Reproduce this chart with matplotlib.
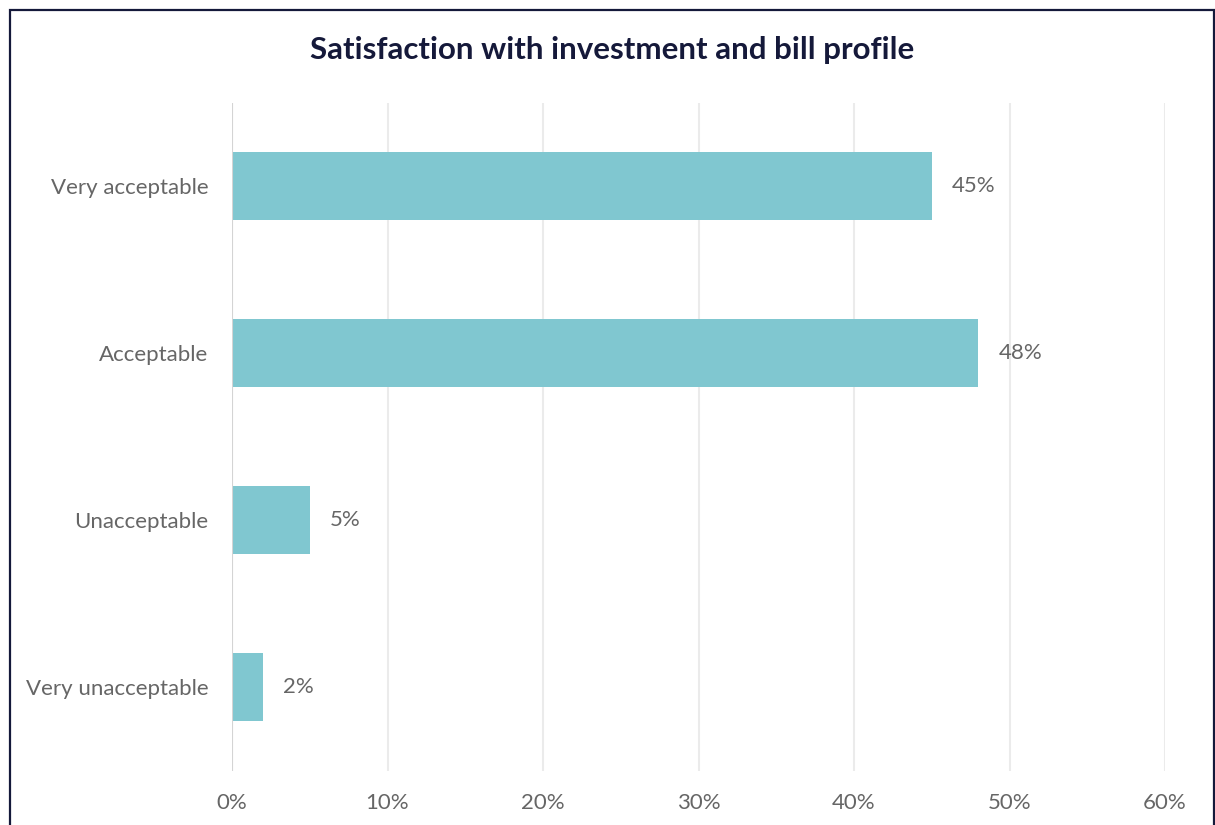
import matplotlib
matplotlib.use("Agg")
import matplotlib.pyplot as plt
from matplotlib.patches import Rectangle
from matplotlib.ticker import FuncFormatter

categories = ["Very acceptable", "Acceptable", "Unacceptable", "Very unacceptable"]
values = [45, 48, 5, 2]
x_ticks = [0, 10, 20, 30, 40, 50, 60]
title = "Satisfaction with investment and bill profile"

plt.rcParams["font.family"] = ["Lato", "DejaVu Sans"]

BAR = "#80C7D0"
TEXT = "#666666"
NAVY = "#15193a"

W, H = 1215, 825
fig = plt.figure(figsize=(W / 100, H / 100), dpi=100)
ax = fig.add_axes([232 / W, 54.5 / H, (1165 - 232) / W, (722.5 - 54.5) / H])

ypos = list(range(len(categories)))[::-1]
ax.barh(ypos, values, height=0.41, color=BAR, zorder=3)
for y, v in zip(ypos, values):
    ax.text(v + 1.3, y, f"{v}%", va="center", ha="left", fontsize=16, color=TEXT)

ax.set_xlim(0, 60)
ax.set_ylim(-0.5, len(categories) - 0.5)
ax.set_xticks(x_ticks)
ax.xaxis.set_major_formatter(FuncFormatter(lambda v, p: f"{int(v)}%"))
ax.set_yticks(ypos)
ax.set_yticklabels(categories)
ax.tick_params(axis="x", length=0, pad=16, labelsize=16, labelcolor=TEXT)
ax.tick_params(axis="y", length=0, pad=17, labelsize=16, labelcolor=TEXT)
ax.grid(axis="x", color="#ebebeb", linewidth=1.5, zorder=0)
for s in ax.spines.values():
    s.set_visible(False)
ax.axvline(0, color="#d4d4d4", linewidth=1.5, zorder=4)

fig.text(612 / W, 1 - 50 / H, title, ha="center", va="center",
         fontsize=22.5, fontweight="bold", color=NAVY)

# outer frame, open at the bottom edge
fig.patches.append(Rectangle((9.5 / W, -0.05), (1213.5 - 9.5) / W, 1.05 - 10.5 / H,
                             transform=fig.transFigure, fill=False,
                             edgecolor=NAVY, linewidth=1.6))

fig.savefig("out.png", dpi=100)
